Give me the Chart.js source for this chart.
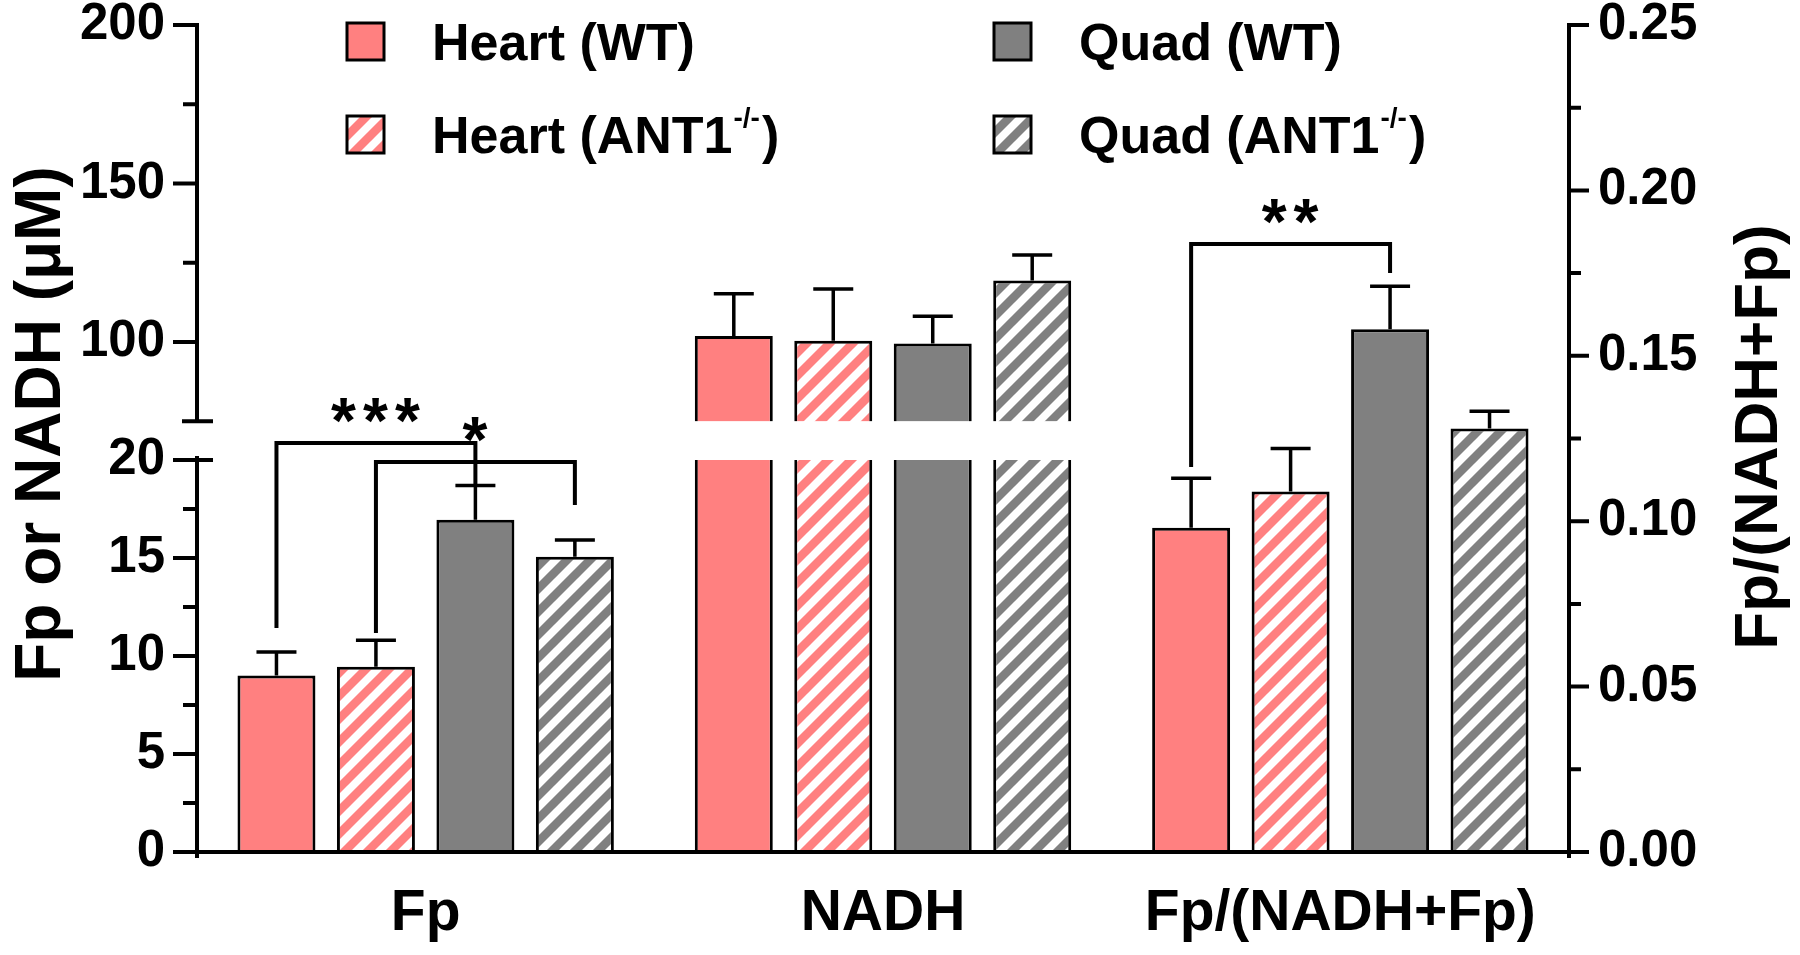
<!DOCTYPE html>
<html lang="en">
<head>
<meta charset="UTF-8" />
<title>Fp and NADH</title>
<script src="https://cdn.jsdelivr.net/npm/chart.js"></script>
<style>
  body { margin: 0; background: #fff; }
  #wrap { width: 1800px; height: 955px; }
</style>
</head>
<body>
<div id="wrap"><canvas id="fpChart" width="1800" height="955"></canvas></div>
<script>
// ---- data ----
const categories = ['Fp', 'NADH', 'Fp/(NADH+Fp)'];
const seriesNames = ['Heart (WT)', 'Heart (ANT1-/-)', 'Quad (WT)', 'Quad (ANT1-/-)'];

// Fp and NADH (µM), left axis
const heartWT = [9.0, 101.9];
const heartKO = [9.45, 100.4];
const quadWT = [16.95, 99.5];
const quadKO = [15.07, 119.4];
const heartWTErr = [1.2, 13.3];
const heartKOErr = [1.35, 16.3];
const quadWTErr = [1.75, 8.6];
const quadKOErr = [0.85, 8.0];

// Fp/(NADH+Fp), right axis
const ratioMean = [0.098, 0.109, 0.158, 0.128];
const ratioErr = [0.015, 0.013, 0.013, 0.0052];

const leftTickValues = [0, 2.5, 5, 7.5, 10, 12.5, 15, 17.5, 20, 100, 125, 150, 175, 200];
const leftTickLabels = [0, 5, 10, 15, 20, 100, 150, 200];

// significance brackets: series index pairs inside one category
const brackets = [
  { cat: 0, from: 0, to: 2, top: 20.87, fromY: 11.43, toY: 18.72, text: '***', axis: 'y' },
  { cat: 0, from: 1, to: 3, top: 19.9, fromY: 11.17, toY: 17.7, text: '*', axis: 'y' },
  { cat: 2, from: 0, to: 2, top: 0.1838, fromY: 0.1164, toY: 0.175, text: '**', axis: 'y2' }
];

// ---- broken axis settings ----
const lowerMax = 20, upperMin = 75, upperMax = 200;
const breakLowFrac = 0.474, breakHighFrac = 0.521;

const FONT = '"Liberation Sans", Arial, Helvetica, sans-serif';
const PINK = '#FF8080';
const GREY = '#808080';

const LinearBase = Chart.LinearScale || Chart.registry.getScale('linear');
class BrokenScale extends LinearBase {
  buildTicks() {
    return leftTickValues.map(v => ({ value: v }));
  }
  toDecimal(v) {
    if (v >= upperMin) return breakHighFrac + (v - upperMin) / (upperMax - upperMin) * (1 - breakHighFrac);
    return Math.min(v / lowerMax * breakLowFrac, breakHighFrac);
  }
  getPixelForValue(v) {
    return this.getPixelForDecimal(this.toDecimal(v));
  }
  getValueForPixel(p) {
    const d = this.getDecimalForPixel(p);
    if (d >= breakHighFrac) return upperMin + (d - breakHighFrac) / (1 - breakHighFrac) * (upperMax - upperMin);
    return d / breakLowFrac * lowerMax;
  }
}
BrokenScale.id = 'broken';
BrokenScale.defaults = LinearBase.defaults;
Chart.register(BrokenScale);

function hatch(color) {
  const P = 23;
  const c = document.createElement('canvas');
  c.width = P; c.height = P;
  const g = c.getContext('2d');
  g.fillStyle = '#fff';
  g.fillRect(0, 0, P, P);
  g.strokeStyle = color;
  g.lineWidth = 8.5;
  g.beginPath();
  for (let o = -P; o <= P; o += P) {
    g.moveTo(o - P, 2 * P);
    g.lineTo(o + 2 * P, -P);
  }
  g.stroke();
  return g.createPattern(c, 'repeat');
}

const fills = [PINK, hatch(PINK), GREY, hatch(GREY)];
const concMeans = [heartWT, heartKO, quadWT, quadKO];
const concErrs = [heartWTErr, heartKOErr, quadWTErr, quadKOErr];

const barStyle = {
  borderColor: '#000',
  borderWidth: 3,
  skipNull: true,
  categoryPercentage: 0.87,
  barPercentage: 0.784
};

const datasets = [];
seriesNames.forEach((name, s) => {
  datasets.push(Object.assign({
    label: name,
    data: [concMeans[s][0], concMeans[s][1], null],
    errors: [concErrs[s][0], concErrs[s][1], null],
    yAxisID: 'y',
    backgroundColor: fills[s]
  }, barStyle));
});
seriesNames.forEach((name, s) => {
  datasets.push(Object.assign({
    label: name,
    data: [null, null, ratioMean[s]],
    errors: [null, null, ratioErr[s]],
    yAxisID: 'y2',
    backgroundColor: fills[s]
  }, barStyle));
});

// ---- drawing helpers ----
const overlay = {
  id: 'overlay',
  afterDatasetsDraw(chart) {
    const ctx = chart.ctx;
    const area = chart.chartArea;
    const y = chart.scales.y, y2 = chart.scales.y2;
    ctx.save();
    ctx.strokeStyle = '#000';
    ctx.fillStyle = '#000';
    ctx.lineCap = 'butt';

    // error bars
    ctx.lineWidth = 3.5;
    chart.data.datasets.forEach((ds, d) => {
      const meta = chart.getDatasetMeta(d);
      const sc = chart.scales[ds.yAxisID];
      ds.data.forEach((v, i) => {
        if (v === null) return;
        const bar = meta.data[i];
        const top = sc.getPixelForValue(v + ds.errors[i]);
        ctx.beginPath();
        ctx.moveTo(bar.x, bar.y);
        ctx.lineTo(bar.x, top);
        ctx.moveTo(bar.x - 20, top);
        ctx.lineTo(bar.x + 20, top);
        ctx.stroke();
      });
    });

    // cut bars that cross the axis break
    const yLow = y.getPixelForValue(lowerMax);
    const yHigh = y.getPixelForValue(upperMin);
    ctx.fillStyle = '#fff';
    chart.data.datasets.forEach((ds, d) => {
      if (ds.yAxisID !== 'y') return;
      const meta = chart.getDatasetMeta(d);
      ds.data.forEach((v, i) => {
        if (v === null || v <= upperMin) return;
        const bar = meta.data[i];
        ctx.fillRect(bar.x - bar.width / 2 - 3, yHigh, bar.width + 6, yLow - yHigh);
      });
    });
    ctx.fillStyle = '#000';

    // significance brackets
    ctx.lineWidth = 4;
    ctx.lineJoin = 'miter';
    brackets.forEach(b => {
      const off = b.axis === 'y2' ? 4 : 0;
      const sc = chart.scales[b.axis];
      const x1 = chart.getDatasetMeta(b.from + off).data[b.cat].x;
      const x2 = chart.getDatasetMeta(b.to + off).data[b.cat].x;
      const yt = sc.getPixelForValue(b.top);
      ctx.beginPath();
      ctx.moveTo(x1, sc.getPixelForValue(b.fromY));
      ctx.lineTo(x1, yt);
      ctx.lineTo(x2, yt);
      ctx.lineTo(x2, sc.getPixelForValue(b.toY));
      ctx.stroke();
      ctx.font = `bold 64px ${FONT}`;
      ctx.textAlign = 'center';
      ctx.textBaseline = 'alphabetic';
      ctx.letterSpacing = '7px';
      ctx.fillText(b.text, (x1 + x2) / 2 + 3, yt);
      ctx.letterSpacing = '0px';
    });

    // axes
    const L = area.left, R = area.right, B = area.bottom;
    ctx.lineWidth = 4;
    ctx.beginPath();
    ctx.moveTo(L, B + 6); ctx.lineTo(L, yLow - 4);
    ctx.moveTo(L, yHigh); ctx.lineTo(L, y.getPixelForValue(upperMax) - 2);
    ctx.moveTo(L - 2, B); ctx.lineTo(R + 2, B);
    ctx.moveTo(R, B + 6); ctx.lineTo(R, y2.getPixelForValue(0.25) - 2);
    // break marks
    ctx.moveTo(L - 15, yHigh); ctx.lineTo(L + 16, yHigh);
    ctx.moveTo(L, yLow); ctx.lineTo(L + 16, yLow);
    ctx.stroke();

    ctx.beginPath();
    y.ticks.forEach(t => {
      const p = y.getPixelForValue(t.value);
      const len = leftTickLabels.includes(t.value) ? 24 : 14;
      ctx.moveTo(L, p); ctx.lineTo(L - len, p);
    });
    y2.ticks.forEach((t, i) => {
      const p = y2.getPixelForValue(t.value);
      const len = i % 2 === 0 ? 20 : 12;
      ctx.moveTo(R, p); ctx.lineTo(R + len, p);
    });
    ctx.stroke();

    // axis titles
    ctx.textAlign = 'center';
    ctx.textBaseline = 'alphabetic';
    ctx.font = `bold 64px ${FONT}`;
    ctx.save();
    ctx.translate(60, 424);
    ctx.rotate(-Math.PI / 2);
    ctx.fillText('Fp or NADH (μM)', 0, 0);
    ctx.restore();
    ctx.font = `bold 62px ${FONT}`;
    ctx.save();
    ctx.translate(1777, 437);
    ctx.rotate(-Math.PI / 2);
    ctx.fillText('Fp/(NADH+Fp)', 0, 0);
    ctx.restore();

    ctx.restore();
  },
  afterDraw(chart) {
    // legend, two columns by two rows
    const ctx = chart.ctx;
    const colX = [347, 994];
    const rowY = [23, 116];
    const box = 37;
    ctx.save();
    seriesNames.forEach((name, s) => {
      const bx = colX[Math.floor(s / 2)];
      const by = rowY[s % 2];
      ctx.fillStyle = fills[s];
      ctx.fillRect(bx, by, box, box);
      ctx.lineWidth = 3;
      ctx.strokeStyle = '#000';
      ctx.strokeRect(bx, by, box, box);
      ctx.fillStyle = '#000';
      ctx.textAlign = 'left';
      ctx.textBaseline = 'alphabetic';
      const tx = bx + 85, ty = by + 37;
      const m = name.match(/^(.*)(-\/-)(.*)$/);
      ctx.font = `bold 52px ${FONT}`;
      if (!m) {
        ctx.fillText(name, tx, ty);
        return;
      }
      ctx.fillText(m[1], tx, ty);
      let cx = tx + ctx.measureText(m[1]).width + 1;
      ctx.font = `bold 28px ${FONT}`;
      ctx.fillText(m[2], cx, ty - 26);
      cx += ctx.measureText(m[2]).width + 2;
      ctx.font = `bold 52px ${FONT}`;
      ctx.fillText(m[3], cx, ty);
    });
    ctx.restore();
  }
};

new Chart(document.getElementById('fpChart').getContext('2d'), {
  type: 'bar',
  data: { labels: categories, datasets: datasets },
  options: {
    responsive: false,
    animation: false,
    devicePixelRatio: 1,
    layout: { padding: { top: 25, left: 0, right: 0, bottom: 0 } },
    plugins: {
      legend: { display: false },
      tooltip: { enabled: false }
    },
    scales: {
      x: {
        type: 'category',
        offset: true,
        grid: { display: false, drawTicks: false },
        border: { display: false },
        ticks: {
          color: '#000',
          font: { family: FONT, size: 57, weight: 'bold', lineHeight: 1.2 },
          padding: 28,
          maxRotation: 0,
          autoSkip: false
        },
        afterFit: s => { s.height = 103; s.paddingLeft = 0; s.paddingRight = 0; }
      },
      y: {
        type: 'broken',
        position: 'left',
        min: 0,
        max: upperMax,
        grid: { display: false, drawTicks: false },
        border: { display: false },
        ticks: {
          color: '#000',
          font: { family: FONT, size: 51, weight: 'bold', lineHeight: 0.9 },
          padding: 32,
          autoSkip: false,
          callback: v => leftTickLabels.includes(v) ? String(v) : ''
        },
        afterFit: s => { s.width = 197; s.paddingTop = 0; s.paddingBottom = 0; }
      },
      y2: {
        type: 'linear',
        position: 'right',
        min: 0,
        max: 0.25,
        grid: { display: false, drawTicks: false },
        border: { display: false },
        ticks: {
          stepSize: 0.025,
          color: '#000',
          font: { family: FONT, size: 51, weight: 'bold', lineHeight: 0.9 },
          padding: 29,
          autoSkip: false,
          callback: (v, i) => i % 2 === 0 ? v.toFixed(2) : ''
        },
        afterFit: s => { s.width = 231; s.paddingTop = 0; s.paddingBottom = 0; }
      }
    }
  },
  plugins: [overlay]
});
</script>
</body>
</html>
